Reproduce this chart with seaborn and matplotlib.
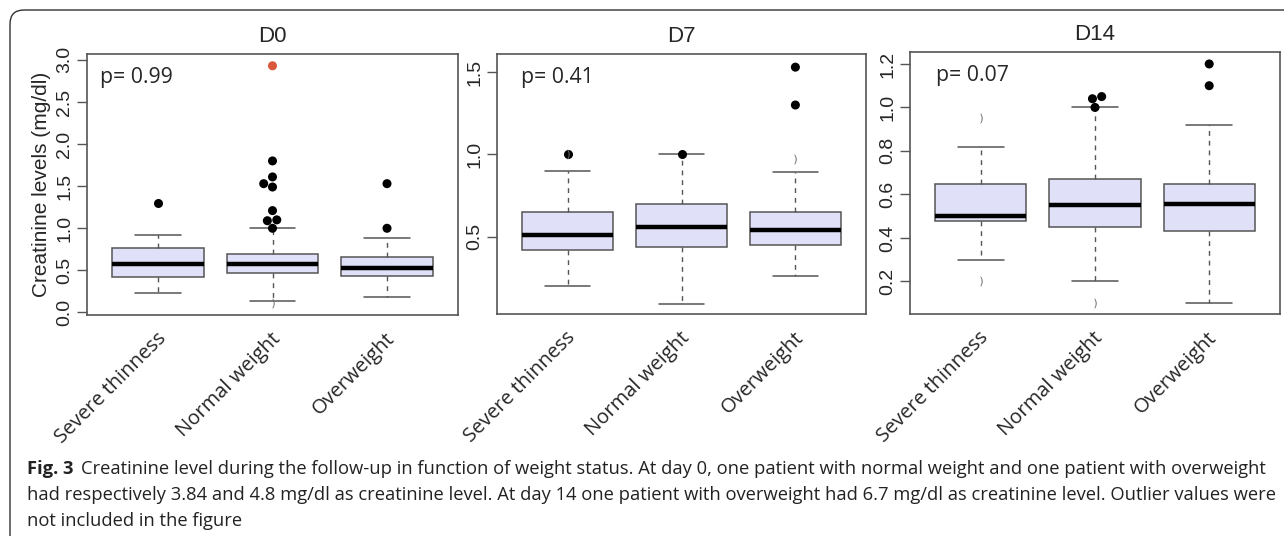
import matplotlib
matplotlib.use("Agg")
import matplotlib.pyplot as plt
from matplotlib.path import Path
from matplotlib.patches import PathPatch
from matplotlib.transforms import ScaledTranslation
import seaborn as sns
import pandas as pd

# ── data ──────────────────────────────────────────────────
categories = ["Severe thinness", "Normal weight", "Overweight"]
days = ["D0", "D7", "D14"]
p_values = ["0.99", "0.41", "0.07"]

# five-number summaries per group: lower whisker, Q1, median, Q3, upper whisker
d0_summary = [[0.23, 0.42, 0.57, 0.77, 0.92],
              [0.14, 0.47, 0.57, 0.70, 1.00],
              [0.18, 0.43, 0.53, 0.66, 0.88]]
d7_summary = [[0.20, 0.42, 0.51, 0.65, 0.90],
              [0.09, 0.44, 0.56, 0.70, 1.00],
              [0.26, 0.45, 0.54, 0.65, 0.89]]
d14_summary = [[0.30, 0.48, 0.50, 0.65, 0.82],
               [0.20, 0.45, 0.55, 0.67, 1.00],
               [0.10, 0.43, 0.555, 0.65, 0.92]]

# outliers (group index, value); "max" = the red point
d0_out_group = [0, 1, 1, 1, 1, 1, 1, 1, 1, 1, 2, 2]
d0_out_value = [1.30, 1.00, 1.09, 1.10, 1.21, 1.49, 1.53, 1.61, 1.80, 2.93, 1.00, 1.53]
d0_out_kind = ["out"] * 9 + ["max"] + ["out"] * 2
d7_out_group = [0, 1, 2, 2]
d7_out_value = [1.00, 1.00, 1.30, 1.53]
d7_out_kind = ["out"] * 4
d14_out_group = [1, 1, 1, 2, 2]
d14_out_value = [1.00, 1.04, 1.05, 1.10, 1.20]
d14_out_kind = ["out"] * 5

# faint grey marks left in the figure
d0_faint_group, d0_faint_value = [1], [0.11]
d7_faint_group, d7_faint_value = [0, 2], [1.00, 0.97]
d14_faint_group, d14_faint_value = [0, 0, 1], [0.95, 0.20, 0.10]

ylims = [(-0.03, 3.07), (0.03, 1.61), (0.05, 1.255)]
yticks = [[0.0, 0.5, 1.0, 1.5, 2.0, 2.5, 3.0], [0.5, 1.0, 1.5],
          [0.2, 0.4, 0.6, 0.8, 1.0, 1.2]]

caption_bold = "Fig. 3"
caption_lines = [
    "Creatinine level during the follow-up in function of weight status. At day 0, one patient with normal weight and one patient with overweight",
    "had respectively 3.84 and 4.8 mg/dl as creatinine level. At day 14 one patient with overweight had 6.7 mg/dl as creatinine level. Outlier values were",
    "not included in the figure",
]

# ── style ────────────────────────────────────────────────
sns.set_theme(style="ticks")
plt.rcParams["font.family"] = ["Liberation Sans", "DejaVu Sans"]

W, H = 1284, 536
fig = plt.figure(figsize=(W / 100, H / 100), dpi=100)
fig.patch.set_facecolor("white")

# axes boxes in pixels: left, right, top, bottom
boxes = [(87, 458, 54, 315), (497, 866, 54, 314), (910, 1280, 52, 314)]
p_x = [0.035, 0.065, 0.07]

summaries = [d0_summary, d7_summary, d14_summary]
outs = [(d0_out_group, d0_out_value, d0_out_kind),
        (d7_out_group, d7_out_value, d7_out_kind),
        (d14_out_group, d14_out_value, d14_out_kind)]
faints = [(d0_faint_group, d0_faint_value), (d7_faint_group, d7_faint_value),
          (d14_faint_group, d14_faint_value)]

edge = "#555555"

for i in range(3):
    l, r, t, b = boxes[i]
    ax = fig.add_axes([l / W, 1 - b / H, (r - l) / W, (b - t) / H])

    box_df = pd.DataFrame({
        "group": [categories[g] for g in range(3) for _ in summaries[i][g]],
        "value": [v for g in range(3) for v in summaries[i][g]],
    })
    sns.boxplot(data=box_df, x="group", y="value", order=categories, ax=ax,
                whis=(0, 100), showfliers=False, width=0.8, color="#e0e0f8",
                saturation=1, linecolor=edge, linewidth=1.1,
                medianprops={"color": "black", "linewidth": 3.2},
                whiskerprops={"linestyle": (0, (3.5, 3.5)), "linewidth": 1.0},
                capprops={"linestyle": "-", "linewidth": 1.1})

    og, ov, ok = outs[i]
    out_df = pd.DataFrame({"group": [categories[g] for g in og], "value": ov, "kind": ok})
    sns.swarmplot(data=out_df, x="group", y="value", order=categories, hue="kind",
                  palette={"out": "black", "max": "#d9583b"}, size=6.5, ax=ax,
                  legend=False)

    fg, fv = faints[i]
    sns.stripplot(x=[categories[g] for g in fg], y=fv, order=categories, jitter=False,
                  marker="$)$", color="#6e6e6e", size=7, ax=ax)

    ax.set_xlim(-0.62, 2.62)
    ax.set_ylim(*ylims[i])
    ax.set_yticks(yticks[i])
    ax.set_yticklabels([f"{v:.1f}" for v in yticks[i]], rotation=90, va="center")
    ax.tick_params(axis="y", length=7, width=1, color=edge, pad=3, labelsize=14)
    ax.set_xticks(range(3))
    ax.set_xticklabels(categories, rotation=45, ha="right", va="center",
                       rotation_mode="anchor", fontfamily="Open Sans", fontsize=14.5)
    ax.tick_params(axis="x", length=0, pad=15)
    for lab in ax.get_xticklabels():
        lab.set_transform(lab.get_transform() + ScaledTranslation(0.05, 0, fig.dpi_scale_trans))
    ax.set_xlabel("")
    ax.set_ylabel("")
    for sp in ax.spines.values():
        sp.set_visible(True)
        sp.set_color(edge)
        sp.set_linewidth(1.2)

    ax.set_title(days[i], fontsize=16, pad=9)
    ax.text(p_x[i], 0.95, f"p= {p_values[i]}", transform=ax.transAxes,
            ha="left", va="top", fontfamily="Open Sans", fontsize=15.3)

    if i == 0:
        ax.set_ylabel("Creatinine levels (mg/dl)", fontsize=15, labelpad=4)

# outer frame: top and left edges with a rounded corner
x0, y0, rad = 10, 10, 14
verts = [(W, y0), (x0 + rad, y0), (x0, y0), (x0, y0 + rad), (x0, H)]
codes = [Path.MOVETO, Path.LINETO, Path.CURVE3, Path.CURVE3, Path.LINETO]
verts = [(x / W, 1 - y / H) for x, y in verts]
fig.patches.append(PathPatch(Path(verts, codes), transform=fig.transFigure,
                             fill=False, edgecolor="#333333", linewidth=1.0))

# caption
cap_kw = dict(fontfamily="Open Sans", fontsize=13.2, color="#222222", va="baseline")
bold = fig.text(27 / W, 1 - 474 / H, caption_bold, fontweight="bold", **cap_kw)
fig.canvas.draw()
bb = bold.get_window_extent()
fig.text(bb.x1 / W + 8 / W, 1 - 474 / H, caption_lines[0], **cap_kw)
fig.text(27 / W, 1 - 500 / H, caption_lines[1], **cap_kw)
fig.text(27 / W, 1 - 526 / H, caption_lines[2], **cap_kw)

fig.savefig("out.png", dpi=100)
plt.close(fig)
